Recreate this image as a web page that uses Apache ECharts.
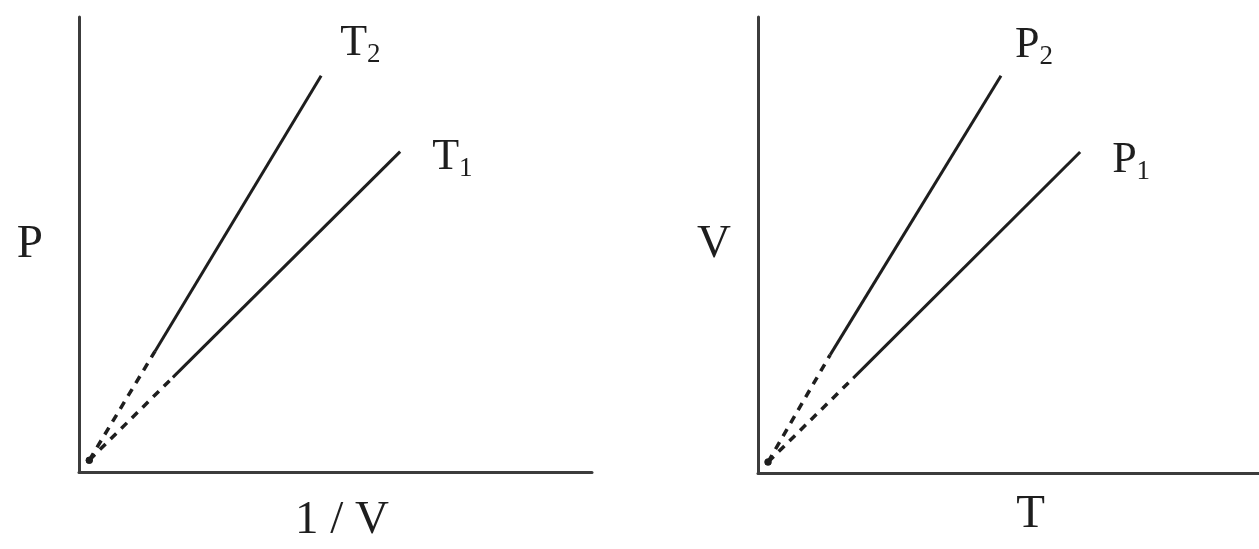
<!DOCTYPE html>
<html>
<head>
    <meta charset="UTF-8">
    <script src="https://cdn.jsdelivr.net/npm/echarts@6/dist/echarts.min.js"></script>
</head>
<body style="margin:0;background:#fff;">
<div id="chartMain" style="width:1259px;height:549px;"></div>

<script type="text/javascript">
    // each line: origin, end of the dashed part, top of the solid part (axis units 0..100)
    var t2_line = [[2, 2.6], [14.8, 26.5], [47.2, 87.1]];
    var t1_line = [[2, 2.6], [18.3, 20.8], [62.6, 70.4]];
    var p2_line = [[2, 2.4], [14.4, 25.9], [48.5, 87.1]];
    var p1_line = [[2, 2.4], [19.0, 20.8], [64.3, 70.4]];
    var left_names = ['1 / V', 'P'];
    var right_names = ['T', 'V'];

    var ink = '#1e1e1e';
    var serif = 'Liberation Serif';

    function makeLine(name, sub, pts, gi, offset) {
        var dashed = {
            name: name + sub + '-ext',
            type: 'line',
            xAxisIndex: gi,
            yAxisIndex: gi,
            symbol: 'none',
            data: [{value: pts[0], symbol: 'circle', symbolSize: 7, itemStyle: {color: ink, borderWidth: 0}}, pts[1]],
            lineStyle: {color: ink, width: 3.5, type: [8, 7]}
        };
        var solid = {
            name: name + sub,
            type: 'line',
            xAxisIndex: gi,
            yAxisIndex: gi,
            data: pts.slice(1),
            showSymbol: false,
            lineStyle: {color: ink, width: 3},
            endLabel: {
                show: true,
                distance: 0,
                offset: offset,
                formatter: '{m|' + name + '}{s|' + sub + '}',
                rich: {
                    m: {fontFamily: serif, fontSize: 44, lineHeight: 44, color: ink, verticalAlign: 'top'},
                    s: {fontFamily: serif, fontSize: 27, lineHeight: 27, color: ink, verticalAlign: 'top', padding: [20, 0, 0, 0]}
                }
            }
        };
        return [dashed, solid];
    }

    function axisBase(gi) {
        return {
            type: 'value',
            gridIndex: gi,
            min: 0,
            max: 100,
            nameLocation: 'middle',
            axisTick: {show: false},
            axisLabel: {show: false},
            splitLine: {show: false},
            axisLine: {lineStyle: {color: '#3c3c3c', width: 3}}
        };
    }

    var myChart = echarts.init(document.getElementById('chartMain'));
    var xa0 = axisBase(0), ya0 = axisBase(0), xa1 = axisBase(1), ya1 = axisBase(1);
    xa0.name = left_names[0];
    xa0.nameGap = 25;
    xa0.nameTextStyle = {fontFamily: serif, fontSize: 47, color: ink, verticalAlign: 'top', padding: [0, 0, 0, 13]};
    ya0.name = left_names[1];
    ya0.nameGap = 36;
    ya0.nameRotate = 0;
    ya0.nameTextStyle = {fontFamily: serif, fontSize: 47, color: ink};
    xa1.name = right_names[0];
    xa1.nameGap = 18;
    xa1.nameTextStyle = {fontFamily: serif, fontSize: 47, color: ink, verticalAlign: 'top', padding: [0, 0, 0, 44]};
    ya1.name = right_names[1];
    ya1.nameGap = 27;
    ya1.nameRotate = 0;
    ya1.nameTextStyle = {fontFamily: serif, fontSize: 47, color: ink};

    var series = []
        .concat(makeLine('T', '2', t2_line, 0, [19, -32]))
        .concat(makeLine('T', '1', t1_line, 0, [32, 6]))
        .concat(makeLine('P', '2', p2_line, 1, [14, -30]))
        .concat(makeLine('P', '1', p1_line, 1, [32, 8]));

    option = {
        animation: false,
        backgroundColor: '#fff',
        grid: [
            {left: 79, top: 17, width: 513, height: 456},
            {left: 758, top: 17, width: 501, height: 456}
        ],
        xAxis: [xa0, xa1],
        yAxis: [ya0, ya1],
        series: series
    };
    myChart.setOption(option);
</script>
</body>
</html>
